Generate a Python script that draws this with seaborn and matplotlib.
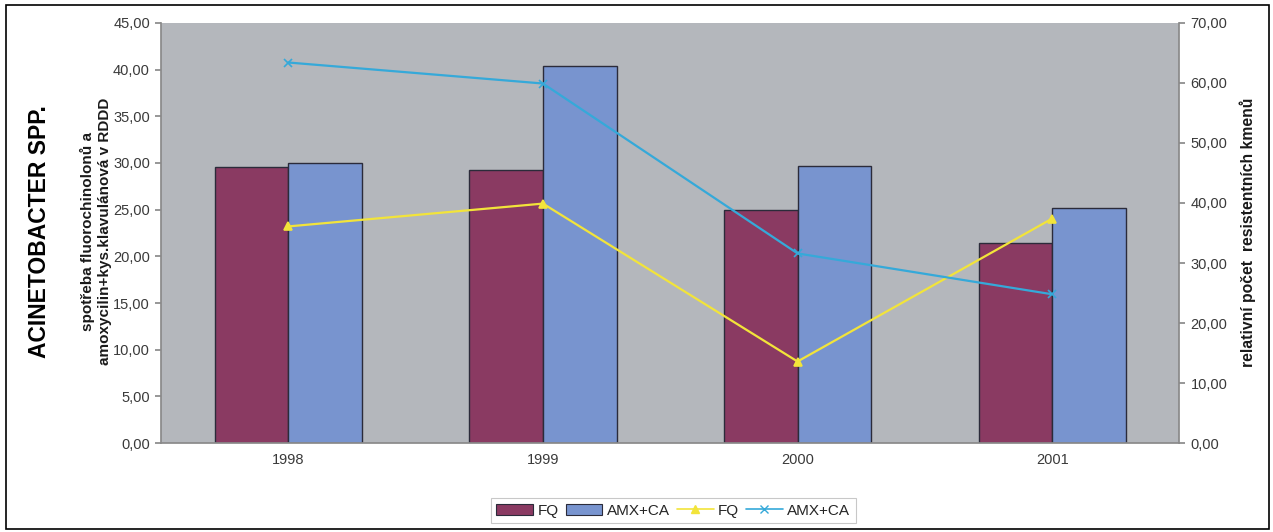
import matplotlib
matplotlib.use("Agg")
import matplotlib.pyplot as plt
import seaborn as sns
import pandas as pd
from matplotlib.patches import Rectangle, Patch
from matplotlib.lines import Line2D
from matplotlib.ticker import FuncFormatter

years = ["1998", "1999", "2000", "2001"]
bar_fq = [29.6, 29.2, 25.0, 21.4]
bar_amx = [30.0, 40.4, 29.7, 25.2]
line_fq = [36.1, 39.9, 13.6, 37.4]
line_amx = [63.4, 59.9, 31.6, 24.8]
series_names = ["FQ", "AMX+CA"]

sns.set_theme(style="white")
plt.rcParams['font.family'] = ['Liberation Sans', 'DejaVu Sans']

bars = pd.DataFrame({
    "year": years * 2,
    "value": bar_fq + bar_amx,
    "series": [series_names[0]] * 4 + [series_names[1]] * 4,
})
lines = pd.DataFrame({
    "year": years * 2,
    "value": line_fq + line_amx,
    "series": [series_names[0]] * 4 + [series_names[1]] * 4,
})

fig = plt.figure(figsize=(12.73, 5.32), dpi=100)
ax = fig.add_axes([0.1265, 0.167, 0.800, 0.790])
ax.set_facecolor("#b4b7bc")

bar_colors = ["#8a3a62", "#7894cf"]
sns.barplot(data=bars, x="year", y="value", hue="series", palette=bar_colors,
            width=0.578, gap=0, edgecolor="#2b2b3a", linewidth=1.0, saturation=1,
            ax=ax, legend=False)

ax.set_ylim(0, 45)
ax.set_yticks([0, 5, 10, 15, 20, 25, 30, 35, 40, 45])
fmt = FuncFormatter(lambda v, p: f"{v:.2f}".replace(".", ","))
ax.yaxis.set_major_formatter(fmt)
ax.set_xlabel("")
ax.set_ylabel("")
for s in ["top", "right"]:
    ax.spines[s].set_visible(False)
ax.spines["left"].set_color("#8a8a8a")
ax.spines["bottom"].set_color("#8a8a8a")
ax.tick_params(axis="y", which="both", left=True, length=4, color="#8a8a8a",
               labelsize=10.5, labelcolor="#3a3a3a", pad=4)
ax.tick_params(axis="x", bottom=True, length=0, color="#8a8a8a",
               labelsize=10.5, labelcolor="#3a3a3a", pad=7)

ax2 = ax.twinx()
line_colors = ["#f2e43a", "#35a9d9"]
sns.pointplot(data=lines, x="year", y="value", hue="series", palette=line_colors,
              markers=["^", "x"], linestyles=["-", "-"], markersize=6,
              linewidth=1.6, ax=ax2, legend=False, errorbar=None)
ax2.set_ylim(0, 70)
ax2.set_yticks([0, 10, 20, 30, 40, 50, 60, 70])
ax2.yaxis.set_major_formatter(fmt)
ax2.set_ylabel("")
ax2.set_xlabel("")
for s in ["top", "left", "bottom"]:
    ax2.spines[s].set_visible(False)
ax2.spines["right"].set_color("#8a8a8a")
ax2.tick_params(axis="y", right=True, length=4, color="#8a8a8a",
                labelsize=10.5, labelcolor="#3a3a3a", pad=4)

# Axis labels
fig.text(0.031, 0.565, "ACINETOBACTER SPP.", rotation=90, fontsize=16.5,
         fontweight="bold", ha="center", va="center", color="black")
fig.text(0.0755, 0.565, "spotřeba fluorochinolonů a\namoxycilin+kys.klavulánová v RDDD",
         rotation=90, fontsize=11, fontweight="bold", ha="center", va="center",
         color="#1a1a1a", linespacing=1.25)
fig.text(0.98, 0.564, "relativní počet  resistentních kmenů", rotation=90,
         fontsize=11.3, fontweight="bold", ha="center", va="center", color="#1a1a1a")

# Legend
handles = [
    Patch(facecolor=bar_colors[0], edgecolor="#2b2b3a", linewidth=0.8),
    Patch(facecolor=bar_colors[1], edgecolor="#2b2b3a", linewidth=0.8),
    Line2D([], [], color=line_colors[0], marker="^", markersize=6, lw=1.2),
    Line2D([], [], color=line_colors[1], marker="x", markersize=6, lw=1.2),
]
labels = ["FQ", "AMX+CA", "FQ", "AMX+CA"]
leg = fig.legend(handles, labels, loc="center", bbox_to_anchor=(0.529, 0.040),
                 ncol=4, frameon=True, fontsize=11, handlelength=2.4,
                 handletextpad=0.3, columnspacing=0.45, borderpad=0.35,
                 fancybox=False, edgecolor="#bbbbbb")
leg.get_frame().set_linewidth(0.8)

# Outer border
fig.patches.append(Rectangle((0.005, 0.006), 0.992, 0.985, transform=fig.transFigure,
                             fill=False, edgecolor="black", linewidth=1.2))

fig.savefig("out.png", dpi=100)
